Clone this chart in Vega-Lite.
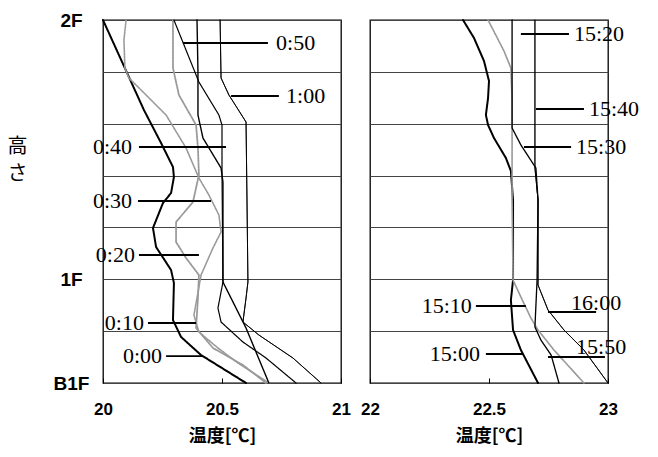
{
  "$schema": "https://vega.github.io/schema/vega-lite/v6.json",
  "background": "white",
  "padding": {"left": 6, "top": 10, "right": 5, "bottom": 5},
  "config": {
    "view": {"stroke": "black", "strokeWidth": 1.3},
    "axis": {
      "labelFont": "Liberation Sans", "labelFontWeight": "bold", "labelColor": "black",
      "titleFont": "Noto Sans CJK JP", "titleColor": "black",
      "labelFlush": false, "labelOverlap": false
    },
    "text": {"font": "Liberation Serif", "fontSize": 22, "color": "black"}
  },
  "datasets": {
    "left": [
      {"time": "0:00", "T": 20.000, "h": 7.000}, {"time": "0:00", "T": 20.172, "h": 5.264}, {"time": "0:00", "T": 20.244, "h": 4.628},
      {"time": "0:00", "T": 20.294, "h": 4.165}, {"time": "0:00", "T": 20.298, "h": 3.972}, {"time": "0:00", "T": 20.286, "h": 3.664},
      {"time": "0:00", "T": 20.252, "h": 3.471}, {"time": "0:00", "T": 20.210, "h": 2.989}, {"time": "0:00", "T": 20.223, "h": 2.623},
      {"time": "0:00", "T": 20.286, "h": 2.179}, {"time": "0:00", "T": 20.298, "h": 1.928}, {"time": "0:00", "T": 20.294, "h": 1.214},
      {"time": "0:00", "T": 20.328, "h": 0.887}, {"time": "0:00", "T": 20.412, "h": 0.539}, {"time": "0:00", "T": 20.601, "h": 0.000},

      {"time": "0:10", "T": 20.294, "h": 7.000}, {"time": "0:10", "T": 20.294, "h": 6.074}, {"time": "0:10", "T": 20.319, "h": 5.554},
      {"time": "0:10", "T": 20.391, "h": 4.975}, {"time": "0:10", "T": 20.399, "h": 4.532}, {"time": "0:10", "T": 20.403, "h": 4.011},
      {"time": "0:10", "T": 20.378, "h": 3.490}, {"time": "0:10", "T": 20.307, "h": 3.105}, {"time": "0:10", "T": 20.307, "h": 2.719},
      {"time": "0:10", "T": 20.349, "h": 2.410}, {"time": "0:10", "T": 20.403, "h": 2.083}, {"time": "0:10", "T": 20.399, "h": 1.639},
      {"time": "0:10", "T": 20.391, "h": 1.061}, {"time": "0:10", "T": 20.462, "h": 0.675}, {"time": "0:10", "T": 20.588, "h": 0.347},
      {"time": "0:10", "T": 20.685, "h": 0.000},

      {"time": "0:30", "T": 20.097, "h": 7.000}, {"time": "0:30", "T": 20.088, "h": 6.614}, {"time": "0:30", "T": 20.092, "h": 6.074},
      {"time": "0:30", "T": 20.109, "h": 5.882}, {"time": "0:30", "T": 20.181, "h": 5.554}, {"time": "0:30", "T": 20.265, "h": 5.168},
      {"time": "0:30", "T": 20.349, "h": 4.532}, {"time": "0:30", "T": 20.403, "h": 3.953}, {"time": "0:30", "T": 20.445, "h": 3.625},
      {"time": "0:30", "T": 20.487, "h": 3.240}, {"time": "0:30", "T": 20.496, "h": 2.912}, {"time": "0:30", "T": 20.462, "h": 2.603},
      {"time": "0:30", "T": 20.412, "h": 2.083}, {"time": "0:30", "T": 20.395, "h": 1.639}, {"time": "0:30", "T": 20.382, "h": 1.311},
      {"time": "0:30", "T": 20.403, "h": 0.983}, {"time": "0:30", "T": 20.483, "h": 0.675}, {"time": "0:30", "T": 20.567, "h": 0.386},
      {"time": "0:30", "T": 20.697, "h": 0.000},

      {"time": "0:40", "T": 20.395, "h": 7.000}, {"time": "0:40", "T": 20.399, "h": 5.997}, {"time": "0:40", "T": 20.399, "h": 5.168},
      {"time": "0:40", "T": 20.420, "h": 4.724}, {"time": "0:40", "T": 20.496, "h": 4.146}, {"time": "0:40", "T": 20.504, "h": 3.876},
      {"time": "0:40", "T": 20.504, "h": 1.948}, {"time": "0:40", "T": 20.601, "h": 1.060}, {"time": "0:40", "T": 20.697, "h": 0.000},

      {"time": "0:50", "T": 20.298, "h": 7.000}, {"time": "0:50", "T": 20.403, "h": 5.804}, {"time": "0:50", "T": 20.487, "h": 5.168},
      {"time": "0:50", "T": 20.500, "h": 4.975}, {"time": "0:50", "T": 20.500, "h": 4.107}, {"time": "0:50", "T": 20.504, "h": 1.948},
      {"time": "0:50", "T": 20.483, "h": 1.446}, {"time": "0:50", "T": 20.496, "h": 1.176}, {"time": "0:50", "T": 20.588, "h": 0.790},
      {"time": "0:50", "T": 20.685, "h": 0.482}, {"time": "0:50", "T": 20.811, "h": 0.000},

      {"time": "1:00", "T": 20.492, "h": 7.000}, {"time": "1:00", "T": 20.496, "h": 5.882}, {"time": "1:00", "T": 20.529, "h": 5.554},
      {"time": "1:00", "T": 20.601, "h": 5.033}, {"time": "1:00", "T": 20.605, "h": 3.529}, {"time": "1:00", "T": 20.609, "h": 1.948},
      {"time": "1:00", "T": 20.601, "h": 1.639}, {"time": "1:00", "T": 20.588, "h": 1.176}, {"time": "1:00", "T": 20.655, "h": 0.925},
      {"time": "1:00", "T": 20.798, "h": 0.482}, {"time": "1:00", "T": 20.916, "h": 0.000}
    ],
    "right": [
      {"time": "15:00", "T": 22.391, "h": 7.000}, {"time": "15:00", "T": 22.437, "h": 6.653}, {"time": "15:00", "T": 22.479, "h": 6.209},
      {"time": "15:00", "T": 22.500, "h": 5.824}, {"time": "15:00", "T": 22.496, "h": 5.496}, {"time": "15:00", "T": 22.487, "h": 5.168},
      {"time": "15:00", "T": 22.496, "h": 4.975}, {"time": "15:00", "T": 22.521, "h": 4.724}, {"time": "15:00", "T": 22.571, "h": 4.339},
      {"time": "15:00", "T": 22.592, "h": 4.088}, {"time": "15:00", "T": 22.601, "h": 3.529}, {"time": "15:00", "T": 22.601, "h": 1.986},
      {"time": "15:00", "T": 22.592, "h": 1.601}, {"time": "15:00", "T": 22.601, "h": 1.022}, {"time": "15:00", "T": 22.634, "h": 0.636},
      {"time": "15:00", "T": 22.706, "h": 0.000},

      {"time": "15:10", "T": 22.496, "h": 7.000}, {"time": "15:10", "T": 22.563, "h": 6.402}, {"time": "15:10", "T": 22.592, "h": 6.074},
      {"time": "15:10", "T": 22.597, "h": 5.457}, {"time": "15:10", "T": 22.597, "h": 3.529}, {"time": "15:10", "T": 22.601, "h": 1.986},
      {"time": "15:10", "T": 22.634, "h": 1.658}, {"time": "15:10", "T": 22.676, "h": 1.253}, {"time": "15:10", "T": 22.706, "h": 1.022},
      {"time": "15:10", "T": 22.773, "h": 0.636}, {"time": "15:10", "T": 22.899, "h": 0.000},

      {"time": "15:30", "T": 22.597, "h": 7.000}, {"time": "15:30", "T": 22.597, "h": 4.917}, {"time": "15:30", "T": 22.634, "h": 4.590},
      {"time": "15:30", "T": 22.697, "h": 4.146}, {"time": "15:30", "T": 22.706, "h": 3.529}, {"time": "15:30", "T": 22.702, "h": 1.986},
      {"time": "15:30", "T": 22.693, "h": 1.080}, {"time": "15:30", "T": 22.718, "h": 0.829}, {"time": "15:30", "T": 22.761, "h": 0.539},
      {"time": "15:30", "T": 22.794, "h": 0.000},

      {"time": "15:40", "T": 22.693, "h": 7.000}, {"time": "15:40", "T": 22.693, "h": 4.146}, {"time": "15:40", "T": 22.706, "h": 3.529},
      {"time": "15:40", "T": 22.706, "h": 1.889}, {"time": "15:40", "T": 22.748, "h": 1.407}, {"time": "15:40", "T": 22.815, "h": 1.022},
      {"time": "15:40", "T": 22.899, "h": 0.636}, {"time": "15:40", "T": 23.000, "h": 0.000}
    ],
    "leadL": [
      {"x1": 20.336, "x2": 20.693, "h": 6.556}, {"x1": 20.538, "x2": 20.739, "h": 5.534},
      {"x1": 20.151, "x2": 20.517, "h": 4.551}, {"x1": 20.147, "x2": 20.454, "h": 3.510},
      {"x1": 20.151, "x2": 20.403, "h": 2.468}, {"x1": 20.189, "x2": 20.391, "h": 1.157},
      {"x1": 20.265, "x2": 20.420, "h": 0.520}
    ],
    "labL_r": [
      {"label": "0:50", "T": 20.727, "h": 6.556}, {"label": "1:00", "T": 20.769, "h": 5.534}
    ],
    "labL_l": [
      {"label": "0:40", "T": 20.122, "h": 4.551}, {"label": "0:30", "T": 20.122, "h": 3.510},
      {"label": "0:20", "T": 20.134, "h": 2.468}, {"label": "0:10", "T": 20.172, "h": 1.157},
      {"label": "0:00", "T": 20.248, "h": 0.520}
    ],
    "leadR": [
      {"x1": 22.634, "x2": 22.836, "h": 6.730}, {"x1": 22.697, "x2": 22.899, "h": 5.284},
      {"x1": 22.647, "x2": 22.845, "h": 4.551}, {"x1": 22.445, "x2": 22.655, "h": 1.485},
      {"x1": 22.487, "x2": 22.643, "h": 0.559}, {"x1": 22.748, "x2": 22.950, "h": 1.369},
      {"x1": 22.748, "x2": 22.987, "h": 0.501}
    ],
    "labR_r": [
      {"label": "15:20", "T": 22.857, "h": 6.730}, {"label": "15:40", "T": 22.920, "h": 5.284},
      {"label": "15:30", "T": 22.866, "h": 4.551}
    ],
    "labR_l": [
      {"label": "15:10", "T": 22.428, "h": 1.485}, {"label": "15:00", "T": 22.462, "h": 0.559}
    ],
    "labR_up": [
      {"label": "16:00", "T": 22.845, "h": 1.408}, {"label": "15:50", "T": 22.866, "h": 0.559}
    ]
  },
  "bounds": "flush",
  "spacing": 29,
  "resolve": {"scale": {"x": "independent", "y": "independent", "color": "independent", "strokeWidth": "independent", "strokeDash": "independent"}},
  "hconcat": [
    {
      "width": 238,
      "height": 363,
      "layer": [
        {
          "data": {"name": "left"},
          "mark": {"type": "line", "strokeCap": "round", "strokeJoin": "round"},
          "encoding": {
            "x": {"field": "T", "type": "quantitative", "scale": {"domain": [20, 21], "nice": false, "zero": false},
              "axis": {"values": [20, 20.5, 21], "labelExpr": "datum.value + ''", "title": "温度[℃]", "grid": false, "domain": false,
                "tickSize": -5, "tickColor": "black", "tickWidth": 1, "labelFontSize": 17, "labelPadding": 23,
                "titleFontSize": 18, "titleFontWeight": "bold", "titlePadding": 10}},
            "y": {"field": "h", "type": "quantitative", "scale": {"domain": [0, 7], "nice": false, "zero": false},
              "axis": {"values": [0, 1, 2, 3, 4, 5, 6, 7], "grid": true, "gridColor": "#444", "gridWidth": 1, "ticks": false, "domain": false,
                "labelExpr": "datum.value == 0 ? 'B1F' : datum.value == 2 ? '1F' : datum.value == 7 ? '2F' : ''",
                "labelFontSize": 19, "labelAlign": "center", "labelBaseline": "middle", "labelPadding": 32,
                "title": ["高", "さ"], "titleAngle": 0, "titleAlign": "center", "titleBaseline": "top", "titleX": -86, "titleY": 116,
                "titleFontSize": 20, "titleFontWeight": "normal", "titleLineHeight": 27}},
            "order": {"field": "h", "type": "quantitative"},
            "color": {"field": "time", "type": "nominal", "legend": null,
              "scale": {"domain": ["0:00", "0:10", "0:30", "0:40", "0:50", "1:00"], "range": ["#000000", "#9a9a9a", "#9a9a9a", "#000000", "#000000", "#000000"]}},
            "strokeWidth": {"field": "time", "type": "nominal", "legend": null,
              "scale": {"domain": ["0:00", "0:10", "0:30", "0:40", "0:50", "1:00"], "range": [2, 1, 1, 1.5, 2, 1.6]}},
            "strokeDash": {"field": "time", "type": "nominal", "legend": null,
              "scale": {"domain": ["0:00", "0:10", "0:30", "0:40", "0:50", "1:00"], "range": [[1, 0], [2, 1], [2, 1], [1, 0], [1, 0], [1, 0]]}}
          }
        },
        {
          "data": {"name": "leadL"},
          "mark": {"type": "rule", "color": "black", "strokeWidth": 1.8},
          "encoding": {
            "x": {"field": "x1", "type": "quantitative"},
            "x2": {"field": "x2"},
            "y": {"field": "h", "type": "quantitative"}
          }
        },
        {
          "data": {"name": "labL_r"},
          "mark": {"type": "text", "align": "left", "baseline": "middle"},
          "encoding": {
            "x": {"field": "T", "type": "quantitative"},
            "y": {"field": "h", "type": "quantitative"},
            "text": {"field": "label"}
          }
        },
        {
          "data": {"name": "labL_l"},
          "mark": {"type": "text", "align": "right", "baseline": "middle"},
          "encoding": {
            "x": {"field": "T", "type": "quantitative"},
            "y": {"field": "h", "type": "quantitative"},
            "text": {"field": "label"}
          }
        }
      ]
    },
    {
      "width": 238,
      "height": 363,
      "layer": [
        {
          "data": {"name": "right"},
          "mark": {"type": "line", "strokeCap": "round", "strokeJoin": "round"},
          "encoding": {
            "x": {"field": "T", "type": "quantitative", "scale": {"domain": [22, 23], "nice": false, "zero": false},
              "axis": {"values": [22, 22.5, 23], "labelExpr": "datum.value + ''", "title": "温度[℃]", "grid": false, "domain": false,
                "tickSize": -5, "tickColor": "black", "tickWidth": 1, "labelFontSize": 17, "labelPadding": 23,
                "titleFontSize": 18, "titleFontWeight": "bold", "titlePadding": 10}},
            "y": {"field": "h", "type": "quantitative", "scale": {"domain": [0, 7], "nice": false, "zero": false},
              "axis": {"values": [0, 1, 2, 3, 4, 5, 6, 7], "grid": true, "gridColor": "#444", "gridWidth": 1, "ticks": false, "domain": false,
                "labels": false, "title": null}},
            "order": {"field": "h", "type": "quantitative"},
            "color": {"field": "time", "type": "nominal", "legend": null,
              "scale": {"domain": ["15:00", "15:10", "15:30", "15:40"], "range": ["#000000", "#9a9a9a", "#000000", "#000000"]}},
            "strokeWidth": {"field": "time", "type": "nominal", "legend": null,
              "scale": {"domain": ["15:00", "15:10", "15:30", "15:40"], "range": [2, 1, 1.8, 1.5]}},
            "strokeDash": {"field": "time", "type": "nominal", "legend": null,
              "scale": {"domain": ["15:00", "15:10", "15:30", "15:40"], "range": [[1, 0], [2, 1], [1, 0], [1, 0]]}}
          }
        },
        {
          "data": {"name": "leadR"},
          "mark": {"type": "rule", "color": "black", "strokeWidth": 1.8},
          "encoding": {
            "x": {"field": "x1", "type": "quantitative"},
            "x2": {"field": "x2"},
            "y": {"field": "h", "type": "quantitative"}
          }
        },
        {
          "data": {"name": "labR_r"},
          "mark": {"type": "text", "align": "left", "baseline": "middle"},
          "encoding": {
            "x": {"field": "T", "type": "quantitative"},
            "y": {"field": "h", "type": "quantitative"},
            "text": {"field": "label"}
          }
        },
        {
          "data": {"name": "labR_l"},
          "mark": {"type": "text", "align": "right", "baseline": "middle"},
          "encoding": {
            "x": {"field": "T", "type": "quantitative"},
            "y": {"field": "h", "type": "quantitative"},
            "text": {"field": "label"}
          }
        },
        {
          "data": {"name": "labR_up"},
          "mark": {"type": "text", "align": "left", "baseline": "alphabetic"},
          "encoding": {
            "x": {"field": "T", "type": "quantitative"},
            "y": {"field": "h", "type": "quantitative"},
            "text": {"field": "label"}
          }
        }
      ]
    }
  ]
}
